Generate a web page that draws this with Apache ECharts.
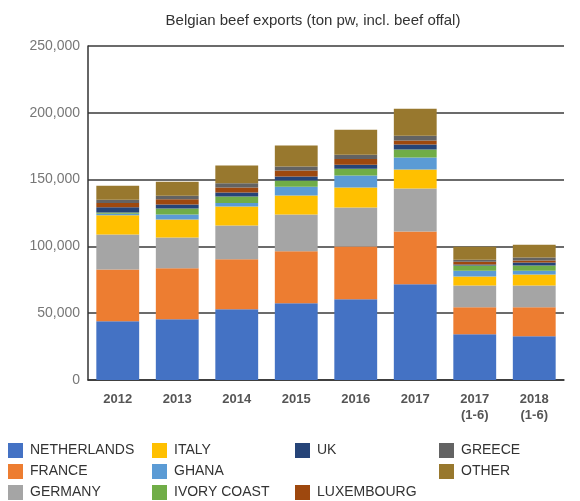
<!DOCTYPE html>
<html><head><meta charset="utf-8">
<script src="https://cdn.jsdelivr.net/npm/echarts@6/dist/echarts.min.js"></script>
<style>html,body{margin:0;padding:0;background:#fff}#c{width:580px;height:501px}</style>
</head><body><div id="c"></div>
<script>
const categories = ['2012','2013','2014','2015','2016','2017','2017\n(1-6)','2018\n(1-6)'];
const netherlands = [44000, 45500, 53000, 57500, 60400, 71600, 34300, 32800];
const france      = [38800, 38100, 37300, 38800, 39600, 39600, 20100, 21600];
const germany     = [26100, 23100, 25400, 27600, 29100, 32100, 16400, 16400];
const italy       = [14400, 13400, 14200, 14200, 14900, 14200, 6700, 8200];
const ghana       = [1200, 3700, 2500, 6500, 9000, 9000, 4200, 2700];
const ivoryCoast  = [800, 4500, 5000, 4700, 5200, 6000, 4000, 4000];
const uk          = [4000, 3000, 3000, 3000, 3000, 3700, 700, 2200];
const luxembourg  = [3200, 4000, 3700, 4500, 4200, 3000, 2200, 1500];
const greece      = [2500, 2700, 3200, 3000, 3200, 3700, 1500, 2200];
const other       = [10400, 10400, 13200, 15700, 18700, 20200, 9700, 9700];
const yTicks = [0, 50000, 100000, 150000, 200000, 250000];

const seriesDefs = [
  ['NETHERLANDS', netherlands, '#4472C4'],
  ['FRANCE', france, '#ED7D31'],
  ['GERMANY', germany, '#A5A5A5'],
  ['ITALY', italy, '#FFC000'],
  ['GHANA', ghana, '#5B9BD5'],
  ['IVORY COAST', ivoryCoast, '#70AD47'],
  ['UK', uk, '#264478'],
  ['LUXEMBOURG', luxembourg, '#9E480E'],
  ['GREECE', greece, '#636363'],
  ['OTHER', other, '#98782E']
];
// legend placement [left, top]
const legendPos = {
  'NETHERLANDS':[3,438], 'FRANCE':[3,459], 'GERMANY':[3,480],
  'ITALY':[147,438], 'GHANA':[147,459], 'IVORY COAST':[147,480],
  'UK':[290,438], 'LUXEMBOURG':[290,480],
  'GREECE':[434,438], 'OTHER':[434,459]
};

const chart = echarts.init(document.getElementById('c'));
chart.setOption({
  animation: false,
  title: {
    text: 'Belgian beef exports (ton pw, incl. beef offal)',
    left: 308, top: 8, textAlign: 'center',
    textStyle: {fontFamily: 'Liberation Sans', fontSize: 15, fontWeight: 'normal', color: '#333'}
  },
  legend: seriesDefs.map(d => ({
    data: [d[0]], left: legendPos[d[0]][0], top: legendPos[d[0]][1],
    itemWidth: 15, itemHeight: 15, itemGap: 0, icon: 'rect',
    textStyle: {fontFamily: 'Liberation Sans', fontSize: 14, color: '#333', padding: [0,0,0,2]},
    selectedMode: false
  })),
  grid: {left: 88, right: 16, top: 46, bottom: 121},
  xAxis: {
    type: 'category', data: categories,
    axisLine: {show: true, lineStyle: {color: '#333', width: 1.5}},
    axisTick: {show: false},
    axisLabel: {fontFamily: 'Liberation Sans', fontSize: 13, fontWeight: 'bold', color: '#555', margin: 11, lineHeight: 16}
  },
  yAxis: {
    type: 'value', min: 0, max: 250000, interval: 50000,
    axisLine: {show: true, lineStyle: {color: '#333', width: 1.5}},
    axisTick: {show: false},
    splitLine: {lineStyle: {color: '#3a3a3a', width: 1.5}},
    axisLabel: {
      fontFamily: 'Liberation Sans', fontSize: 14, color: '#777', margin: 8,
      formatter: v => yTicks.includes(v) ? v.toLocaleString('en-US') : ''
    }
  },
  series: seriesDefs.map(d => ({
    name: d[0], type: 'bar', stack: 'all', data: d[1],
    barWidth: '72%',
    itemStyle: {color: d[2]}
  }))
});
</script></body></html>
